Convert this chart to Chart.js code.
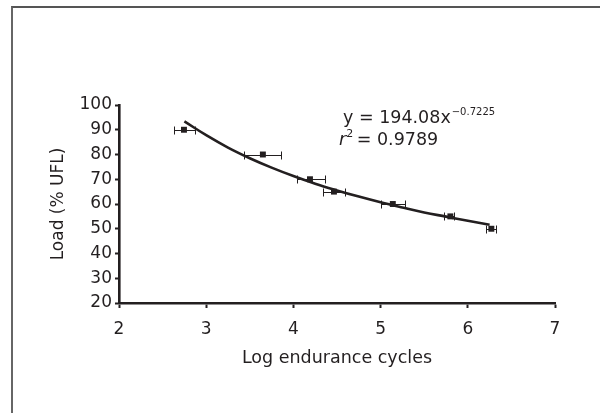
<!DOCTYPE html>
<html>
<head>
<meta charset="utf-8">
<script src="https://cdn.jsdelivr.net/npm/chart.js@4.4.1/dist/chart.umd.min.js"></script>
<style>
  html, body { margin: 0; padding: 0; background: #fff; }
  #wrap { position: relative; width: 600px; height: 413px; }
  #frame { position: absolute; left: 11px; top: 6px; right: 0; bottom: 0;
           border-left: 2px solid #666; border-top: 2px solid #555; }
</style>
</head>
<body>
<div id="wrap">
  <div id="frame"></div>
  <canvas id="chart" width="600" height="413"></canvas>
</div>
<script>
// Mean log endurance cycles at each load level
const logCycles = [2.745, 3.65, 4.19, 4.465, 5.14, 5.80, 6.27];
const loadPct   = [90, 80, 70, 65, 60, 55, 50];
// Horizontal error bar ends
const errLow  = [2.63, 3.435, 4.04, 4.345, 5.00, 5.73, 6.205];
const errHigh = [2.875, 3.855, 4.36, 4.59, 5.285, 5.84, 6.32];

// Power trendline (y = 194.08x^-0.7225)
const trendX = [2.75, 3.0, 3.25, 3.5, 3.75, 4.0, 4.25, 4.5, 4.75, 5.0, 5.25, 5.5, 5.75, 6.0, 6.25];
const trendY = [93.4, 87.8, 82.8, 78.5, 74.7, 71.3, 68.2, 65.5, 63.0, 60.7, 58.6, 56.6, 54.9, 53.2, 51.6];

const xTicks = [2, 3, 4, 5, 6, 7];
const yTicks = [20, 30, 40, 50, 60, 70, 80, 90, 100];

const ink = '#231f20';
const fontFam = '"DejaVu Sans", sans-serif';

const errorBars = {
    id: 'errorBars',
    afterDatasetsDraw(chart) {
        const { ctx, scales: { x, y } } = chart;
        ctx.save();
        ctx.strokeStyle = ink;
        ctx.lineWidth = 1;
        logCycles.forEach((_, i) => {
            const py = Math.round(y.getPixelForValue(loadPct[i])) + 0.5;
            const x1 = Math.round(x.getPixelForValue(errLow[i])) + 0.5;
            const x2 = Math.round(x.getPixelForValue(errHigh[i])) + 0.5;
            ctx.beginPath();
            ctx.moveTo(x1, py); ctx.lineTo(x2, py);
            ctx.moveTo(x1, py - 4); ctx.lineTo(x1, py + 4);
            ctx.moveTo(x2, py - 4); ctx.lineTo(x2, py + 4);
            ctx.stroke();
        });
        ctx.restore();
    }
};

const equation = {
    id: 'equation',
    afterDraw(chart) {
        const ctx = chart.ctx;
        ctx.save();
        ctx.fillStyle = ink;
        ctx.textBaseline = 'alphabetic';
        ctx.font = '17.5px ' + fontFam;
        let t = 'y = 194.08x';
        ctx.fillText(t, 343, 123);
        let w = ctx.measureText(t).width;
        ctx.font = '10px ' + fontFam;
        ctx.fillText('\u22120.7225', 343 + w + 1, 115);

        ctx.font = 'italic 17.5px ' + fontFam;
        ctx.fillText('r', 339, 145);
        let wr = ctx.measureText('r').width;
        ctx.font = '11px ' + fontFam;
        ctx.fillText('2', 339 + wr, 137);
        ctx.font = '17.5px ' + fontFam;
        ctx.fillText(' = 0.9789', 339 + wr + 5, 145);
        ctx.restore();
    }
};

new Chart(document.getElementById('chart'), {
    type: 'scatter',
    data: {
        datasets: [{
            label: 'Trend',
            type: 'line',
            data: trendX.map((v, i) => ({ x: v, y: trendY[i] })),
            borderColor: ink,
            borderWidth: 2.6,
            pointRadius: 0,
            tension: 0.4,
            fill: false
        }, {
            label: 'Load',
            data: logCycles.map((v, i) => ({ x: v, y: loadPct[i] })),
            pointStyle: 'rect',
            pointRadius: 4.2,
            backgroundColor: ink,
            borderColor: ink,
            borderWidth: 0
        }]
    },
    options: {
        responsive: false,
        animation: false,
        layout: {
            padding: { left: 44, right: 45, top: 105, bottom: 40 }
        },
        plugins: {
            legend: { display: false },
            tooltip: { enabled: false }
        },
        scales: {
            x: {
                type: 'linear',
                min: 2,
                max: 7,
                afterFit(scale) { scale.height = 70; },
                afterBuildTicks(scale) { scale.ticks = xTicks.map(v => ({ value: v })); },
                border: { display: true, color: ink, width: 2.6 },
                grid: { drawOnChartArea: false, drawTicks: true, tickLength: 5, tickColor: ink, tickWidth: 2 },
                ticks: { color: ink, padding: 11, font: { family: fontFam, size: 17 } },
                title: {
                    display: true,
                    text: 'Log endurance cycles',
                    color: ink,
                    padding: { top: 0, bottom: 4 },
                    font: { family: fontFam, size: 17.5 }
                }
            },
            y: {
                min: 20,
                max: 100,
                afterFit(scale) { scale.width = 75; },
                afterBuildTicks(scale) { scale.ticks = yTicks.map(v => ({ value: v })); },
                border: { display: true, color: ink, width: 2.6 },
                grid: { drawOnChartArea: false, drawTicks: true, tickLength: 4, tickColor: ink, tickWidth: 2 },
                ticks: { color: ink, padding: 3, font: { family: fontFam, size: 17 } },
                title: {
                    display: true,
                    text: 'Load (% UFL)',
                    color: ink,
                    padding: { top: 4, bottom: 0 },
                    font: { family: fontFam, size: 17 }
                }
            }
        }
    },
    plugins: [errorBars, equation]
});
</script>
</body>
</html>
